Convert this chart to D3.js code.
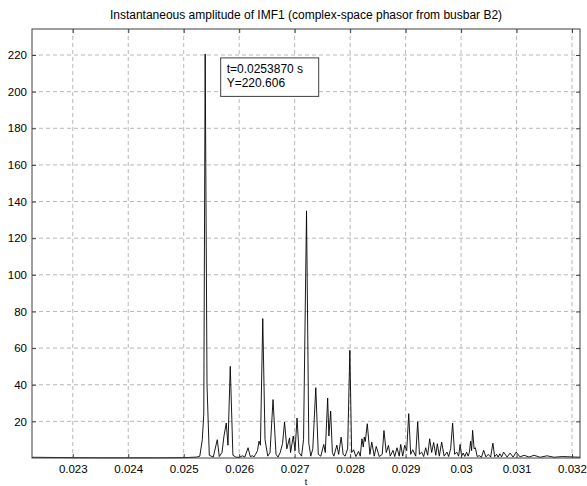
<!DOCTYPE html>
<html>
<head>
<meta charset="utf-8">
<script src="https://cdn.jsdelivr.net/npm/d3@7"></script>
<style>
    body { margin: 0; background: #fff; }
    svg { font-family: 'Liberation Sans', Arial, sans-serif; }
</style>
</head>
<body>
<div id="d3id"></div>
<script>
// samples
var tValues = [
    0.022265, 0.022590, 0.022985, 0.023490, 0.024030, 0.024570, 0.025020,
    0.025236, 0.025290, 0.025335, 0.025362, 0.025387, 0.025420, 0.025461,
    0.025533, 0.025605, 0.025641, 0.025690, 0.025726, 0.025767, 0.025798,
    0.025839, 0.025887, 0.025939, 0.025998, 0.026060, 0.026101, 0.026160,
    0.026200, 0.026240, 0.026267, 0.026294, 0.026330, 0.026357, 0.026383,
    0.026425, 0.026466, 0.026515, 0.026556, 0.026610, 0.026664, 0.026700,
    0.026740, 0.026782, 0.026818, 0.026859, 0.026908, 0.026926, 0.026975,
    0.027007, 0.027043, 0.027079, 0.027124, 0.027160, 0.027214, 0.027255,
    0.027291, 0.027327, 0.027381, 0.027426, 0.027471, 0.027525, 0.027552,
    0.027595, 0.027617, 0.027649, 0.027680, 0.027707, 0.027761, 0.027793,
    0.027838, 0.027874, 0.027910, 0.027955, 0.027995, 0.028027, 0.028063,
    0.028103, 0.028153, 0.028183, 0.028213, 0.028237, 0.028255, 0.028273,
    0.028309, 0.028357, 0.028390, 0.028435, 0.028471, 0.028525, 0.028579,
    0.028610, 0.028651, 0.028691, 0.028723, 0.028773, 0.028804, 0.028845,
    0.028885, 0.028912, 0.028948, 0.028984, 0.029020, 0.029056, 0.029092,
    0.029128, 0.029182, 0.029218, 0.029250, 0.029290, 0.029326, 0.029362,
    0.029398, 0.029434, 0.029470, 0.029506, 0.029544, 0.029572, 0.029608,
    0.029650, 0.029695, 0.029746, 0.029776, 0.029812, 0.029848, 0.029884,
    0.029920, 0.029956, 0.029983, 0.030010, 0.030038, 0.030068, 0.030100,
    0.030127, 0.030150, 0.030172, 0.030190, 0.030208, 0.030235, 0.030258,
    0.030290, 0.030326, 0.030368, 0.030407, 0.030448, 0.030490, 0.030533,
    0.030574, 0.030605, 0.030641, 0.030667, 0.030700, 0.030731, 0.030767,
    0.030830, 0.030884, 0.030938, 0.030992, 0.031064, 0.031136, 0.031226,
    0.031316, 0.031424, 0.031550, 0.031676, 0.031826, 0.032144
];
var yValues = [
    0.4, 0.3, 0.2, 0.1, 0.1, 0.1, 0.2,
    0.5, 1.0, 10.0, 24.0, 220.6, 40.0, 1.5,
    0.5, 10.0, 0.8, 3.0, 12.0, 19.1, 7.0,
    50.0, 1.5, 0.5, 0.3, 1.2, 0.5, 5.6,
    0.8, 1.2, 0.6, 2.0, 4.0, 9.2, 7.0,
    76.1, 10.0, 1.0, 3.0, 31.9, 2.0, 0.5,
    3.0, 8.0, 19.6, 5.0, 11.0, 3.0, 12.0,
    4.0, 21.8, 3.0, 1.0, 10.0, 134.9, 8.0,
    1.0, 5.0, 38.4, 2.0, 1.0, 7.4, 3.0,
    32.7, 12.0, 25.6, 3.0, 1.0, 7.0, 2.0,
    11.4, 2.0, 1.0, 5.0, 58.8, 3.0, 4.5,
    0.8, 3.6, 1.0, 10.5, 6.0, 11.4, 9.0,
    18.7, 2.0, 8.7, 1.0, 6.3, 0.8, 2.0,
    15.0, 3.0, 6.9, 1.0, 4.2, 0.8, 5.6,
    1.0, 7.4, 1.0, 6.9, 4.0, 24.2, 2.0,
    4.5, 1.0, 19.8, 2.0, 3.2, 0.8, 5.6,
    1.5, 10.5, 3.0, 8.5, 1.5, 7.8, 1.0,
    8.7, 1.0, 3.2, 0.8, 5.0, 19.0, 2.0,
    3.2, 1.0, 7.4, 1.0, 2.7, 0.8, 3.2,
    1.0, 3.0, 9.2, 4.0, 15.1, 5.0, 5.6,
    0.8, 1.3, 0.4, 4.2, 0.6, 2.0, 0.5,
    8.1, 0.7, 2.0, 0.5, 2.3, 0.6, 3.2,
    0.5, 2.7, 0.5, 3.2, 0.6, 1.5, 0.5,
    1.5, 0.4, 1.2, 0.4, 0.8, 0.4, 0.6,
    0.3, 0.4, 0.3, 0.3
];
var xTicks = [0.023, 0.024, 0.025, 0.026, 0.027, 0.028, 0.029, 0.030, 0.031, 0.032];
var yTicks = [20, 40, 60, 80, 100, 120, 140, 160, 180, 200, 220];
var xDomain = [0.022265, 0.032144];
var yDomain = [0, 234.2];
var peakT = 0.025387, peakY = 220.606;

var width = 587,
    height = 486,
    margin = { top: 29, right: 7, bottom: 28, left: 32 };
var w = width - margin.left - margin.right,
    h = height - margin.top - margin.bottom;

var data = tValues.map((t, i) => ({ t: t, y: yValues[i] }));

var svg = d3.select('#d3id')
    .append('svg')
    .attr('width', width)
    .attr('height', height);

var g = svg.append('g')
    .attr('transform', `translate(${margin.left},${margin.top})`);

var xScale = d3.scaleLinear().domain(xDomain).range([0, w]);
var yScale = d3.scaleLinear().domain(yDomain).range([h, 0]);

// grid
g.append('g')
    .selectAll('line')
    .data(xTicks)
    .enter()
    .append('line')
    .attr('x1', d => xScale(d))
    .attr('x2', d => xScale(d))
    .attr('y1', 0)
    .attr('y2', h)
    .attr('stroke', '#b8b8b8')
    .attr('stroke-dasharray', '4,3');
g.append('g')
    .selectAll('line')
    .data(yTicks)
    .enter()
    .append('line')
    .attr('x1', 0)
    .attr('x2', w)
    .attr('y1', d => yScale(d))
    .attr('y2', d => yScale(d))
    .attr('stroke', '#b8b8b8')
    .attr('stroke-dasharray', '4,3');

// the trace
var line = d3.line()
    .x(d => xScale(d.t))
    .y(d => yScale(d.y));
g.append('path')
    .datum(data)
    .attr('fill', 'none')
    .attr('stroke', '#000')
    .attr('stroke-width', 0.9)
    .attr('d', line);

// axes, ticks pointing in like matlab
var fmt = d => d3.format('')(+d.toFixed(3));
var xAxis = d3.axisBottom(xScale).tickValues(xTicks).tickSize(-4).tickPadding(7).tickFormat(fmt);
var xAxisTop = d3.axisTop(xScale).tickValues(xTicks).tickSize(-4).tickFormat('');
var yAxis = d3.axisLeft(yScale).tickValues(yTicks).tickSize(-4).tickPadding(5);
var yAxisRight = d3.axisRight(yScale).tickValues(yTicks).tickSize(-4).tickFormat('');

[
    [xAxis, `translate(0,${h})`],
    [xAxisTop, 'translate(0,0)'],
    [yAxis, 'translate(0,0)'],
    [yAxisRight, `translate(${w},0)`]
].forEach(a => {
    var ax = g.append('g')
        .attr('transform', a[1])
        .call(a[0]);
    ax.select('.domain').remove();
    ax.selectAll('line').attr('stroke', '#404040');
    ax.selectAll('text')
        .attr('fill', '#000')
        .attr('font-size', 11.5)
        .attr('font-family', "'Liberation Sans', Arial, sans-serif");
});

g.append('rect')
    .attr('x', 0)
    .attr('y', 0)
    .attr('width', w)
    .attr('height', h)
    .attr('fill', 'none')
    .attr('stroke', '#404040');

// data tip box
var bx = xScale(peakT) + 15.5,
    by = yScale(peakY) + 4;
g.append('rect')
    .attr('x', bx)
    .attr('y', by)
    .attr('width', 98)
    .attr('height', 38.5)
    .attr('fill', '#fff')
    .attr('stroke', '#404040');
g.append('text')
    .attr('x', bx + 6)
    .attr('y', by + 15)
    .attr('font-size', 12)
    .text('t=0.0253870 s');
g.append('text')
    .attr('x', bx + 6)
    .attr('y', by + 29)
    .attr('font-size', 12)
    .text('Y=' + peakY);

// titles
svg.append('text')
    .attr('x', margin.left + w / 2)
    .attr('y', 19)
    .attr('text-anchor', 'middle')
    .attr('font-size', 12)
    .text('Instantaneous amplitude of IMF1 (complex-space phasor from busbar B2)');
svg.append('text')
    .attr('x', margin.left + w / 2)
    .attr('y', 485)
    .attr('text-anchor', 'middle')
    .attr('font-size', 9)
    .text('t');
</script>
</body>
</html>
